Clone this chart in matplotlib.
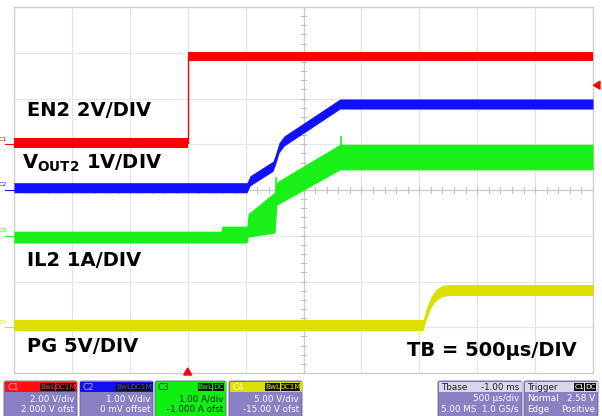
import matplotlib
matplotlib.use("Agg")
import matplotlib.pyplot as plt
from matplotlib.patches import Rectangle, Polygon, FancyBboxPatch

# ---------------- data ----------------
# time axis in ms (500 us/div, trigger at 0)
T_MIN, T_MAX = -1.5, 3.5

# C1 : EN2, 2 V/div, offset 2.000 V
c1_scale, c1_offset = 2.0, 2.0
en2_low_t = [-1.5, 0.0]
en2_low_v = [0.05, 0.05]
en2_high_t = [0.0, 3.5]
en2_high_v = [3.84, 3.84]

# C2 : VOUT2, 1 V/div, offset 0 V
c2_scale, c2_offset = 1.0, 0.0
vout_t = [-1.5, 0.512, 0.538, 0.737, 0.762, 0.788, 0.832, 1.315, 3.5]
vout_v = [0.05, 0.05, 0.20, 0.52, 0.70, 0.92, 1.07, 1.88, 1.88]

# C3 : IL2, 1 A/div, offset -1.000 A  (upper / lower envelope of the ripple band)
c3_scale, c3_offset = 1.0, -1.0
il_t = [-1.5, 0.288, 0.296, 0.512, 0.521, 0.754, 0.771, 1.315, 3.5]
il_hi = [0.10, 0.10, 0.21, 0.21, 0.48, 0.96, 1.18, 2.00, 2.00]
il_lo = [-0.16, -0.16, -0.16, -0.16, -0.03, 0.06, 0.67, 1.44, 1.44]
il_spike_t = [0.762, 1.322]
il_spike_v = [1.26, 2.16]

# C4 : PG, 5 V/div, offset -15.00 V
c4_scale, c4_offset = 5.0, -15.0
pg_t = [-1.5, 2.032, 2.067, 2.101, 2.144, 2.196, 2.265, 3.5]
pg_v = [0.25, 0.25, 1.67, 2.76, 3.52, 3.96, 4.07, 4.07]

trig_level_v = 2.58  # C1 trigger level

labels = ["EN2 2V/DIV", r"$\mathbf{V_{OUT2}}$ 1V/DIV", "IL2 1A/DIV", "PG 5V/DIV"]
tb_label = "TB = 500µs/DIV"

# ---------------- styling ----------------
W, H = 602, 416
RED = "#ff0000"
BLUE = "#1010ff"
GREEN = "#18f018"
YELLOW = "#dede00"
BAND = 0.11  # half thickness of trace band (div)

plt.rcParams["font.family"] = ["DejaVu Sans"]
plt.rcParams["mathtext.fontset"] = "dejavusans"

fig = plt.figure(figsize=(W / 100, H / 100), dpi=100)
fig.patch.set_facecolor("white")

L, R, TOP, BOT = 14, 593, 7, 373
ax = fig.add_axes([L / W, 1 - BOT / H, (R - L) / W, (BOT - TOP) / H])
ax.set_xlim(T_MIN, T_MAX)
ax.set_ylim(-4, 4)
ax.axis("off")

# grid
xdiv = (T_MAX - T_MIN) / 10
for i in range(1, 10):
    x = T_MIN + i * xdiv
    ax.plot([x, x], [-4, 4], color="#e2e2e2", lw=0.8, zorder=0)
for j in range(-3, 4):
    ax.plot([T_MIN, T_MAX], [j, j], color="#e6e6e6", lw=0.8, zorder=0)
xc = T_MIN + 5 * xdiv
ax.plot([xc, xc], [-4, 4], color="#cccccc", lw=0.9, zorder=0)
ax.plot([T_MIN, T_MAX], [0, 0], color="#cccccc", lw=0.9, zorder=0)
for k in range(-20, 21):
    y = k * 0.2
    ax.plot([xc - 0.02, xc + 0.02], [y, y], color="#c0c0c0", lw=0.8, zorder=0)
for k in range(0, 51):
    x = T_MIN + k * xdiv / 5
    ax.plot([x, x], [-0.07, 0.07], color="#c0c0c0", lw=0.8, zorder=0)
ax.add_patch(Rectangle((T_MIN, -4), T_MAX - T_MIN, 8, fill=False,
                       ec="#cccccc", lw=1.0, zorder=1, clip_on=False))


def div(vals, scale, offset):
    return [(v + offset) / scale for v in vals]


# C1
lo = div(en2_low_v, c1_scale, c1_offset)
hi = div(en2_high_v, c1_scale, c1_offset)
ax.fill_between(en2_low_t, [v - BAND for v in lo], [v + BAND for v in lo], color=RED, lw=0, zorder=3)
ax.fill_between(en2_high_t, [v - BAND * 0.9 for v in hi], [v + BAND * 0.9 for v in hi], color=RED, lw=0, zorder=3)
ax.plot([en2_low_t[-1], en2_high_t[0]], [lo[-1], hi[0]], color=RED, lw=1.0, zorder=3)

# C2
vd = div(vout_v, c2_scale, c2_offset)
ax.fill_between(vout_t, [v - BAND for v in vd], [v + BAND for v in vd], color=BLUE, lw=0, zorder=4)

# C3
ax.fill_between(il_t, div(il_lo, c3_scale, c3_offset), div(il_hi, c3_scale, c3_offset),
                color=GREEN, lw=0, zorder=3)
for st, sv in zip(il_spike_t, il_spike_v):
    base = (sv - 0.3 + c3_offset) / c3_scale
    ax.plot([st, st], [base, (sv + c3_offset) / c3_scale], color=GREEN, lw=1.2, zorder=3)

# C4
pd = div(pg_v, c4_scale, c4_offset)
ax.fill_between(pg_t, [v - BAND * 1.1 for v in pd], [v + BAND * 1.1 for v in pd], color=YELLOW, lw=0, zorder=3)

# channel markers on the left (at each channel's zero level)
marks = [("C1", RED, c1_offset / c1_scale),
         ("C2", BLUE, c2_offset / c2_scale),
         ("C3", GREEN, c3_offset / c3_scale),
         ("C4", YELLOW, c4_offset / c4_scale)]
for name, col, yv in marks:
    ax.text(-0.012, yv + 0.06, name, transform=ax.get_yaxis_transform(), ha="right", va="bottom",
            fontsize=4.5, color=col, clip_on=False)
    ax.plot([-0.016, 0.0], [yv, yv], transform=ax.get_yaxis_transform(), color=col, lw=0.8, clip_on=False)

# trigger level marker (right) and trigger position marker (bottom)
ty = (trig_level_v + c1_offset) / c1_scale
typ = ax.transData.transform((T_MAX, ty))[1]
fig.add_artist(Polygon([[(R + 0.5) / W, typ / H], [(R + 7) / W, (typ + 4) / H], [(R + 7) / W, (typ - 4) / H]],
                       closed=True, color=RED, transform=fig.transFigure))
tx = ax.transData.transform((0.0, -4))[0]
fig.add_artist(Polygon([[(tx - 4) / W, 1 - 375 / H], [(tx + 4) / W, 1 - 375 / H], [tx / W, 1 - 368 / H]],
                       closed=True, color=RED, transform=fig.transFigure))

# labels
lab_pos = [(27, 111), (22, 163), (27, 260), (27, 347)]
for txt, (px, py) in zip(labels, lab_pos):
    fig.text(px / W, 1 - py / H, txt, fontsize=14, fontweight="bold", ha="left", va="center", color="black")
fig.text(407 / W, 1 - 350 / H, tb_label, fontsize=14, fontweight="bold", ha="left", va="center", color="black")

# ---------------- status bar ----------------
BODY = "#8a80c4"


def fx(x):
    return x / W


def fy(y):
    return 1 - y / H


def box(x0, x1, head_col, body_col, title, title_col, tags, tag_col, lines, txt_col):
    fig.add_artist(FancyBboxPatch((fx(x0), fy(417)), fx(x1) - fx(x0), fy(381) - fy(417),
                                  boxstyle="round,pad=0,rounding_size=0.004", fc=body_col, ec="#6a6090",
                                  lw=0.6, transform=fig.transFigure))
    fig.add_artist(Rectangle((fx(x0 + 0.5), fy(392)), fx(x1 - 0.5) - fx(x0 + 0.5), fy(382) - fy(392),
                             fc=head_col, ec="none", transform=fig.transFigure))
    fig.text(fx(x0 + 3), fy(387), title, fontsize=6.3, color=title_col, ha="left", va="center")
    xr = x1 - 2
    for tg in reversed(tags):
        w = 4.3 * len(tg) + 2
        fig.add_artist(Rectangle((fx(xr - w), fy(391)), fx(xr) - fx(xr - w), fy(383) - fy(391),
                                 fc="#111111", ec="none", transform=fig.transFigure))
        fig.text(fx(xr - w / 2), fy(387), tg, fontsize=5.3, color=tag_col, ha="center", va="center")
        xr -= w + 1
    for (left, right), yy in zip(lines, (398.5, 409.5)):
        if left:
            fig.text(fx(x0 + 3), fy(yy), left, fontsize=6.3, color=txt_col, ha="left", va="center")
        if right:
            fig.text(fx(x1 - 3), fy(yy), right, fontsize=6.3, color=txt_col, ha="right", va="center")


box(4, 77, "#ff1010", BODY, "C1", "#ffc0c0", ["BwL", "DC1M"], "#ff3030",
    [("", "2.00 V/div"), ("", "2.000 V ofst")], "white")
box(80, 153, "#1010f0", BODY, "C2", "#b0b0ff", ["BwL", "DC1M"], "#4040ff",
    [("", "1.00 V/div"), ("", "0 mV offset")], "white")
box(155, 226, "#10f010", "#10f010", "C3", "#004000", ["BwL", "DC"], "#20ff20",
    [("", "1.00 A/div"), ("", "-1.000 A ofst")], "#002000")
box(229, 302, "#dede00", BODY, "C4", "#ffffc0", ["BwL", "DC1M"], "#e0e000",
    [("", "5.00 V/div"), ("", "-15.00 V ofst")], "white")
box(438, 522, "#d8d6ea", BODY, "Tbase", "#202020", [], "white",
    [("", "500 µs/div"), ("5.00 MS", "1.0 GS/s")], "white")
fig.text(fx(519), fy(387), "-1.00 ms", fontsize=6.3, color="#202020", ha="right", va="center")
box(524, 598, "#d8d6ea", BODY, "Trigger", "#202020", ["C1", "DC"], "white",
    [("Normal", "2.58 V"), ("Edge", "Positive")], "white")

fig.savefig("out.png", dpi=100, facecolor="white")
